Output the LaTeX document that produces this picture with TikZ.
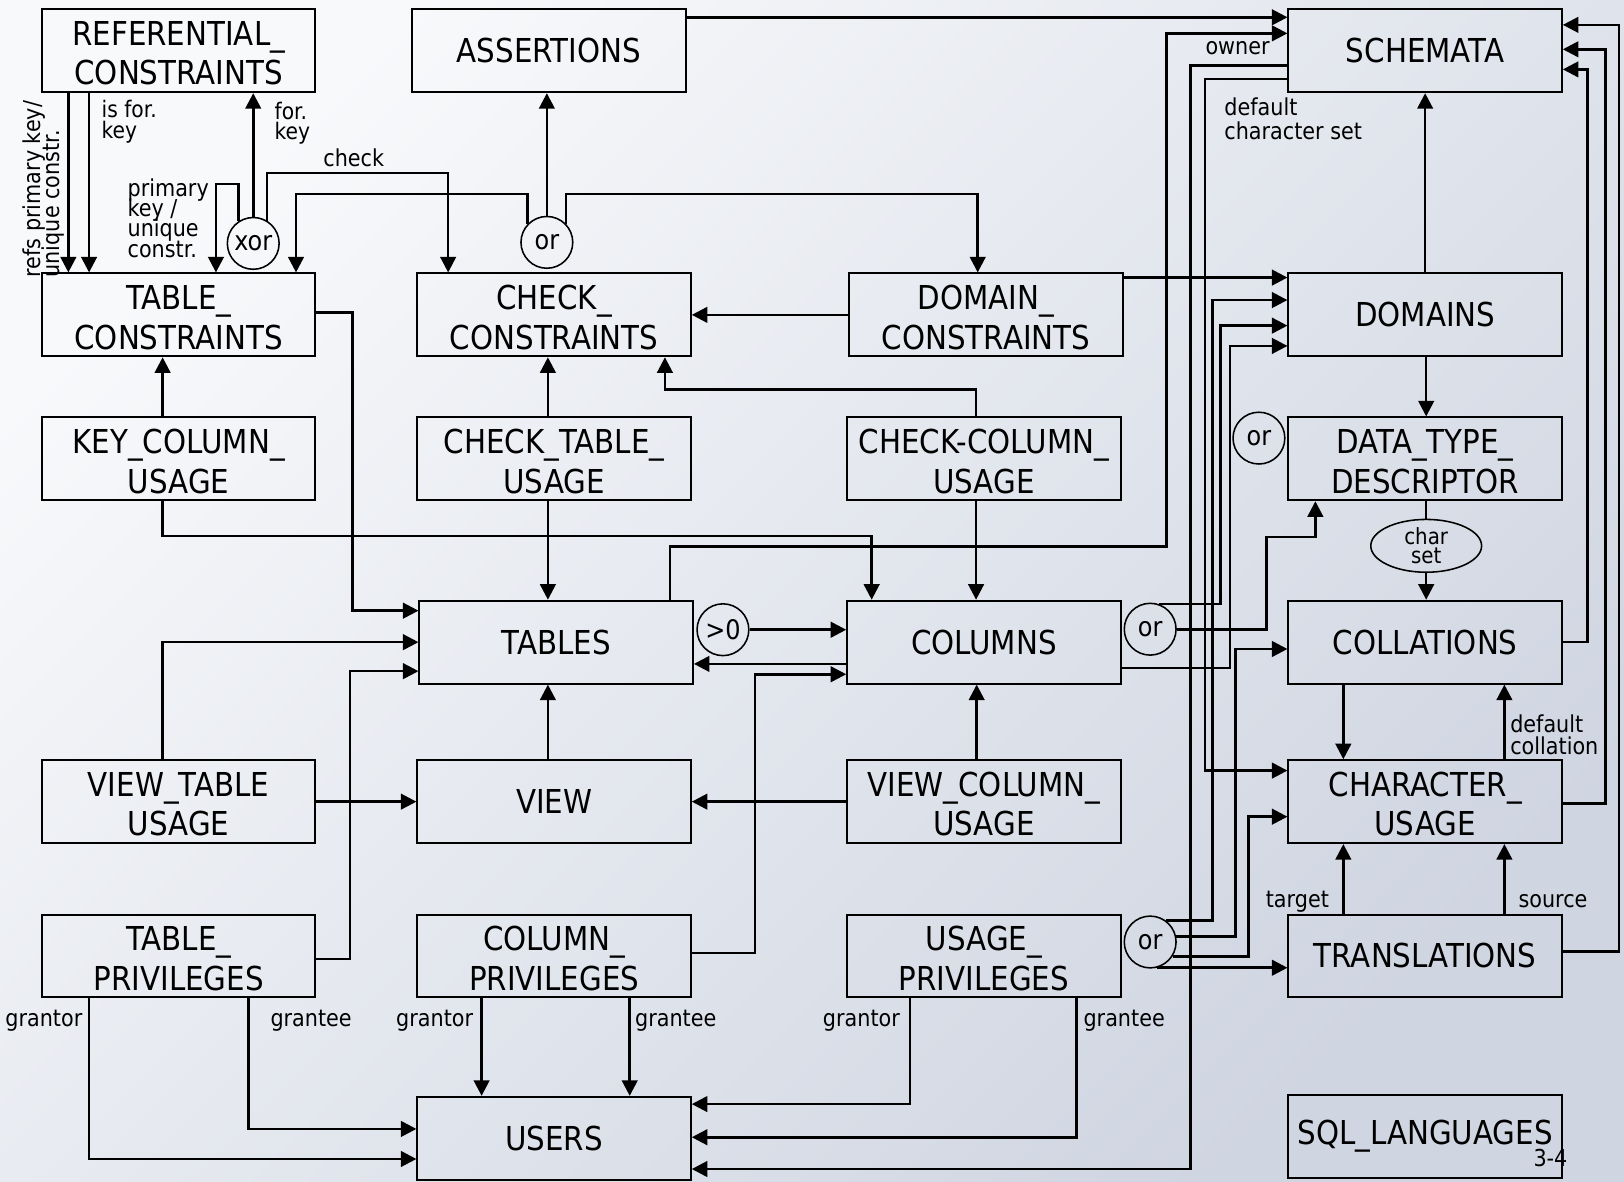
\documentclass[tikz,border=0pt]{standalone}
\usepackage{fontspec}
\setmainfont{DejaVu Sans}[FakeStretch=0.89]
\usetikzlibrary{arrows.meta,calc,shapes.geometric}
\definecolor{bgA}{RGB}{248,249,251}
\definecolor{bgD}{RGB}{207,213,225}
\newcommand\boxfont{\fontsize{31.8}{38}\selectfont\lineskiplimit=-100pt}
\newcommand\lblfont{\fontsize{22.5}{19}\selectfont\lineskiplimit=-100pt}
\newcommand\circfont{\fontsize{26}{26}\selectfont}
\newcommand\ellfont{\fontsize{21.5}{19}\selectfont\lineskiplimit=-100pt}
\newcommand\hs{\rule{0pt}{28.5pt}}
\begin{document}
\begin{tikzpicture}[x=1pt,y=-1pt,
  box/.style={draw, line width=1.9pt, minimum width=264pt, minimum height=80pt, inner sep=0pt, align=center, font=\boxfont},
  circ/.style={draw, circle, line width=1.5pt, minimum size=50pt, inner sep=0pt, font=\circfont},
  ell/.style={draw, ellipse, line width=1.5pt, minimum width=107pt, minimum height=51pt, inner sep=0pt, align=center, font=\ellfont},
  lbl/.style={inner sep=0pt, font=\lblfont},
  ln/.style={line width=2.5pt},
  arr/.style={line width=2.5pt, -{Triangle[length=15pt,width=15pt]}}]
\useasboundingbox (0,0) rectangle (1568,1141.2);
\shade[top color=bgA, bottom color=bgD, shading angle=45] (0,0) rectangle (1568,1141.2);

% boxes
\node[box] (ref) at (172.5,49) {\hs REFERENTIAL\_\\CONSTRAINTS};
\node[box] (assert) at (530,49) {ASSERTIONS};
\node[box] (schem) at (1376,49) {SCHEMATA};
\node[box] (tc) at (172.5,304) {\hs TABLE\_\\CONSTRAINTS};
\node[box] (cc) at (535,304) {\hs CHECK\_\\CONSTRAINTS};
\node[box] (dc) at (952,304) {\hs DOMAIN\_\\CONSTRAINTS};
\node[box] (dom) at (1376,304) {DOMAINS};
\node[box] (kcu) at (172.5,443) {\hs KEY\_COLUMN\_\\USAGE};
\node[box] (ctu) at (535,443) {\hs CHECK\_TABLE\_\\USAGE};
\node[box] (ccu) at (950,443) {\hs CHECK-COLUMN\_\\USAGE};
\node[box] (dtd) at (1376,443) {\hs DATA\_TYPE\_\\DESCRIPTOR};
\node[box] (tables) at (537,620) {TABLES};
\node[box] (cols) at (950,620) {COLUMNS};
\node[box] (coll) at (1376,620) {COLLATIONS};
\node[box] (vtu) at (172.5,774) {\hs VIEW\_TABLE\\USAGE};
\node[box] (view) at (535,774) {VIEW};
\node[box] (vcu) at (950,774) {\hs VIEW\_COLUMN\_\\USAGE};
\node[box] (cu) at (1376,774) {\hs CHARACTER\_\\USAGE};
\node[box] (tp) at (172.5,923) {\hs TABLE\_\\PRIVILEGES};
\node[box] (cp) at (535,923) {\hs COLUMN\_\\PRIVILEGES};
\node[box] (up) at (950,923) {\hs USAGE\_\\PRIVILEGES};
\node[box] (trans) at (1376,923) {TRANSLATIONS};
\node[box] (users) at (535,1099) {USERS};
\node[box] (sql) at (1376,1097) {SQL\_LANGUAGES};

% circles
\node[circ] (xor) at (244.5,235) {xor};
\node[circ] (or1) at (528,234) {or};
\node[circ] (gt) at (698,608) {>0};
\node[circ] (or2) at (1110.5,607.5) {or};
\node[circ] (or3) at (1215.5,423) {or};
\node[circ] (or4) at (1110.5,909.5) {or};
\node[ell] (cs) at (1377,527) {char\\set};

% top-left connectors
\draw[arr] ($(ref.south)+(-106.5,0)$) -- ($(tc.north)+(-106.5,0)$);
\draw[arr] ($(ref.south)+(-86.5,0)$) -- ($(tc.north)+(-86.5,0)$);
\draw[arr] (xor.north) -- (xor.north |- ref.south);
\draw[arr] (xor.124) -- ++(0,-36) -| ($(tc.north)+(36,0)$);
\draw[arr] (xor.59) -- ++(0,-46) -| ($(cc.north)+(-102.3,0)$);
\draw[arr] (or1.136) -- ++(0,-28.9) -| ($(tc.north)+(113.3,0)$);
\draw[arr] (or1.north) -- (or1.north |- assert.south);
\draw[arr] (or1.44) -- ++(0,-28.9) -| ($(dc.north)+(-8,0)$);

% to SCHEMATA and from it
\draw[arr] ($(assert.east)+(0,-32.3)$) -- ($(schem.west)+(0,-32.3)$);
\draw[arr] ($(tables.north)+(110,0)$) |- (1126.5,527.8) |- ($(schem.west)+(0,-16.8)$);
\draw[arr] ($(schem.west)+(0,14.4)$) -| (1149.5,1128.7) -- ($(users.east)+(0,29.7)$);
\draw[arr] ($(schem.west)+(0,27.3)$) -| (1163.5,744) -- ($(cu.west)+(0,-30)$);
\draw[arr] (dom.north) -- (schem.south);
\draw[arr] (coll.east) -| (1533,67) -- ($(schem.east)+(0,18)$);
\draw[arr] ($(cu.east)+(0,2)$) -| (1550,47.6) -- ($(schem.east)+(0,-1.4)$);
\draw[arr] ($(trans.east)+(0,-4.5)$) -| (1563,24) -- ($(schem.east)+(0,-25)$);

% DOMAINS inputs
\draw[arr] ($(dc.east)+(0,-36)$) -- ($(dom.west)+(0,-36)$);
\draw[arr] (or4.54) -| (1170.9,289.7) -- ($(dom.west)+(0,-14.3)$);
\draw[arr] (or2.70) -| (1178.6,314.4) -- ($(dom.west)+(0,10.4)$);
\draw[arr] ($(cols.east)+(0,25)$) -| (1187.6,334) -- ($(dom.west)+(0,30)$);
\draw[arr] (or2.east) -| (1223,518.5) -| ($(dtd.south)+(-106,0)$);
\draw[arr] (or4.12) -| (1193,626.6) -- ($(coll.west)+(0,6.6)$);
\draw[arr] (or4.-33) -| (1205.3,788.5) -- ($(cu.west)+(0,14.5)$);
\draw[arr] (or4.-75) -- (or4.-75 -| trans.west);

% right column
\draw[arr] ($(dom.south)+(1,0)$) -- ($(dtd.north)+(1,0)$);
\draw[ln, line width=1.7pt] (cs.north |- dtd.south) -- (cs.north);
\draw[arr] (cs.south) -- (cs.south |- coll.north);
\draw[arr] ($(coll.south)+(-79,0)$) -- ($(cu.north)+(-79,0)$);
\draw[arr] ($(cu.north)+(76.5,0)$) -- ($(coll.south)+(76.5,0)$);
\draw[arr] ($(trans.north)+(-79,0)$) -- ($(cu.south)+(-79,0)$);
\draw[arr] ($(trans.north)+(76.5,0)$) -- ($(cu.south)+(76.5,0)$);

% middle
\draw[arr] (dc.west) -- (cc.east);
\draw[arr] ($(ccu.north)+(-7.6,0)$) |- (642,375.9) -- ($(cc.south)+(107,0)$);
\draw[arr] ($(ccu.south)+(-7.6,0)$) -- ($(cols.north)+(-7.6,0)$);
\draw[arr] ($(ctu.north)+(-6,0)$) -- ($(cc.south)+(-6,0)$);
\draw[arr] ($(ctu.south)+(-6,0)$) -- ($(tables.north)+(-8,0)$);
\draw[arr] ($(kcu.north)+(-15.5,0)$) -- ($(tc.south)+(-15.5,0)$);
\draw[arr] ($(kcu.south)+(-15.5,0)$) |- (841.6,517.5) -- ($(cols.north)+(-108.4,0)$);
\draw[arr] ($(tc.east)+(0,-2)$) -| (340.5,589.6) -- ($(tables.west)+(0,-30.4)$);
\draw[arr] ($(vtu.north)+(-15.5,0)$) |- (tables.west);
\draw[arr] ($(tp.east)+(0,3)$) -| (338,648) -- ($(tables.west)+(0,28)$);
\draw[arr] (vtu.east) -- (view.west);
\draw[arr] ($(view.north)+(-6,0)$) -- ($(tables.south)+(-8,0)$);
\draw[arr] (gt.east) -- (gt.east -| cols.west);
\draw[arr] ($(cols.west)+(0,21)$) -- ($(tables.east)+(0,21)$);
\draw[arr] ($(cp.east)+(0,-3)$) -| (729,651) -- ($(cols.west)+(0,31)$);
\draw[arr] ($(vcu.north)+(-7,0)$) -- ($(cols.south)+(-7,0)$);
\draw[arr] (vcu.west) -- (view.east);

% privileges to USERS
\draw[arr] ($(tp.south)+(-86.5,0)$) |- ($(users.west)+(0,20)$);
\draw[arr] ($(tp.south)+(67.5,0)$) |- ($(users.west)+(0,-9)$);
\draw[arr] ($(cp.south)+(-70,0)$) -- ($(users.north)+(-70,0)$);
\draw[arr] ($(cp.south)+(73,0)$) -- ($(users.north)+(73,0)$);
\draw[arr] ($(up.south)+(-71.4,0)$) |- ($(users.east)+(0,-33)$);
\draw[arr] ($(up.south)+(89.5,0)$) |- ($(users.east)+(0,-1)$);

% labels
\node[lbl, rotate=90, anchor=south west, align=left, font={\fontsize{22.5}{18}\selectfont\lineskiplimit=-100pt}] (lrefs) at (62,268) {refs primary key/\\unique constr.};
\node[lbl, anchor=north west, align=left, font={\fontsize{22}{20}\selectfont\lineskiplimit=-100pt}] (lisfor) at (98,97) {is for.\\key};
\node[lbl, anchor=north west, align=left, font={\fontsize{22}{20}\selectfont\lineskiplimit=-100pt}] (lfor) at (265,98) {for.\\key};
\node[lbl, anchor=north west, align=left, font={\fontsize{22.5}{19.7}\selectfont\lineskiplimit=-100pt}] (lpk) at (123,172) {primary\\key /\\unique\\constr.};
\node[lbl, anchor=base west] (lcheck) at (312,161) {check};
\node[lbl, anchor=base east] (lowner) at (1226,53) {owner};
\node[lbl, anchor=north west, align=left, font={\fontsize{22.5}{23.5}\selectfont\lineskiplimit=-100pt}] (ldcs) at (1182,94) {default\\character set};
\node[lbl, anchor=north west, align=left, font={\fontsize{22.5}{21}\selectfont\lineskiplimit=-100pt}] (ldcoll) at (1458,690) {default\\collation};
\node[lbl, anchor=base west] (ltarget) at (1222,876) {target};
\node[lbl, anchor=base west] (lsource) at (1466,876) {source};
\node[lbl, anchor=base west] (lgr1) at (5,991) {grantor};
\node[lbl, anchor=base west] (lge1) at (261,991) {grantee};
\node[lbl, anchor=base east] (lgr2) at (457,991) {grantor};
\node[lbl, anchor=base west] (lge2) at (613,991) {grantee};
\node[lbl, anchor=base east] (lgr3) at (869,991) {grantor};
\node[lbl, anchor=base west] (lge3) at (1046,991) {grantee};
\node[lbl, anchor=base] (lpage) at (1497,1126) {3-4};
\end{tikzpicture}
\end{document}
